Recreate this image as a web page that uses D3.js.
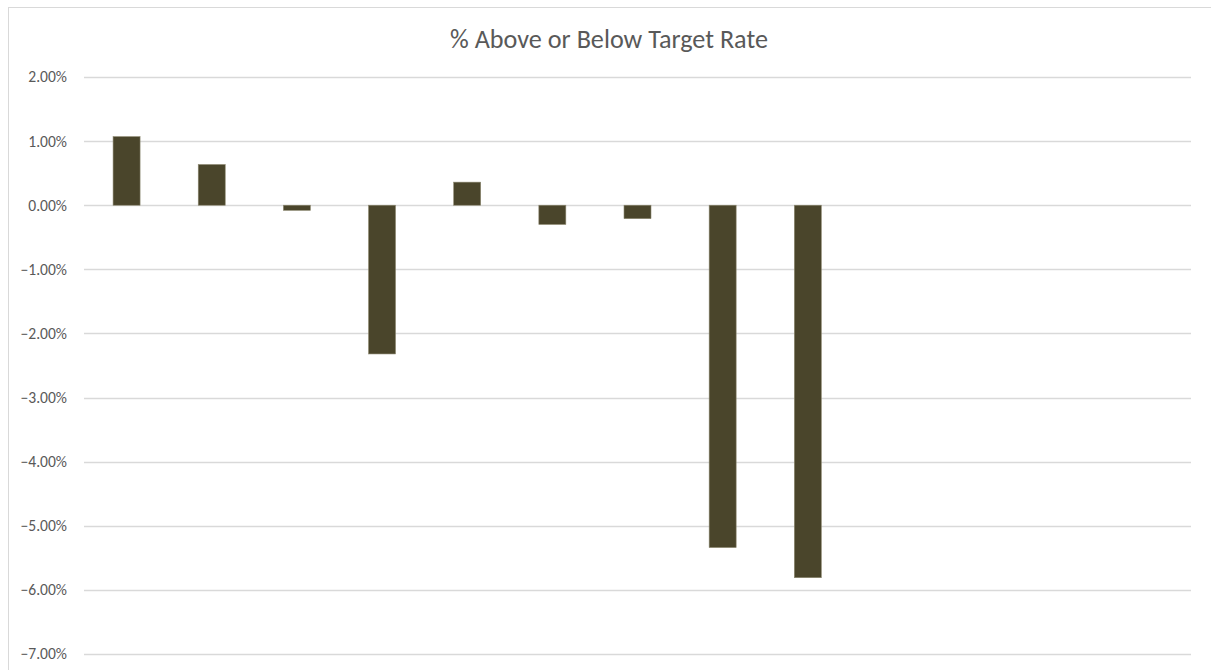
<!DOCTYPE html>
<html>
<head>
<meta charset="utf-8">
<script src="https://cdn.jsdelivr.net/npm/d3@7"></script>
<style>
  body { margin: 0; background: #fff; }
  svg { display: block; font-family: Calibri, Carlito, Lato, "Open Sans", sans-serif; }
</style>
</head>
<body>
<svg width="1211" height="670"></svg>
<script>
// 13 category slots, only the first 9 have values
const categories = ["1", "2", "3", "4", "5", "6", "7", "8", "9", "10", "11", "12", "13"];
const values = [1.07, 0.635, -0.08, -2.32, 0.36, -0.30, -0.21, -5.34, -5.81, null, null, null, null];
const yTicks = [2, 1, 0, -1, -2, -3, -4, -5, -6, -7];
const title = "% Above or Below Target Rate";

const svg = d3.select("svg"),
    width = +svg.attr("width"),
    height = +svg.attr("height");

// scale a text's font size so it takes the width seen in the reference
function fitWidth(sel, target) {
    let fs = parseFloat(sel.style("font-size"));
    let w = sel.node().getComputedTextLength();
    if (w > 0) sel.style("font-size", (fs * target / w).toFixed(2) + "px");
}

// chart frame (Excel style light border, runs off right and bottom)
svg.append("rect")
    .attr("x", 8.5).attr("y", 7.5)
    .attr("width", 1220).attr("height", 700)
    .attr("fill", "#fff")
    .attr("stroke", "#d9d9d9");

let t = svg.append("text")
    .attr("x", 609).attr("y", 48)
    .attr("text-anchor", "middle")
    .attr("fill", "#595959")
    .style("font-size", "24px")
    .text(title);
fitWidth(t, 318);

const plot = { left: 84, right: 1191, top: 77, bottom: 654 };

let x = d3.scaleBand()
    .domain(categories)
    .range([plot.left, plot.right])
    .paddingInner(0.683)
    .paddingOuter(0.3415);

let y = d3.scaleLinear()
    .domain([-7, 2])
    .range([plot.bottom, plot.top]);

// gridlines
svg.append("g")
    .selectAll("line")
    .data(yTicks)
    .enter().append("line")
    .attr("x1", plot.left).attr("x2", plot.right)
    .attr("y1", d => Math.round(y(d)) + 0.5)
    .attr("y2", d => Math.round(y(d)) + 0.5)
    .attr("stroke", "#d9d9d9")
    .attr("stroke-width", 1.3);

// y axis labels
let yAxis = d3.axisLeft(y)
    .tickValues(yTicks)
    .tickSize(0)
    .tickPadding(0)
    .tickFormat(d => d3.format(".2f")(d) + "%");

let ya = svg.append("g")
    .attr("transform", "translate(67,0)")
    .call(yAxis);
ya.select(".domain").remove();
ya.selectAll("text")
    .attr("fill", "#595959")
    .style("font-size", "16px")
    .style("font-family", "Calibri, Carlito, Lato, 'Open Sans', sans-serif");

// size tick labels from the widest one ("-7.00%" is ~47px wide)
let widest = ya.selectAll("text").filter(d => d === -7);
let fs0 = parseFloat(widest.style("font-size"));
let w0 = widest.node().getComputedTextLength();
ya.selectAll("text").style("font-size", (fs0 * 46.5 / w0).toFixed(2) + "px");

// bars
svg.append("g")
    .selectAll("rect")
    .data(categories.map((c, i) => ({ cat: c, v: values[i] })).filter(d => d.v !== null))
    .enter().append("rect")
    .attr("x", d => x(d.cat))
    .attr("width", x.bandwidth())
    .attr("y", d => y(Math.max(0, d.v)))
    .attr("height", d => Math.abs(y(d.v) - y(0)))
    .attr("fill", "#4a452b")
    .attr("stroke", "#8d8870")
    .attr("stroke-width", 0.6);
</script>
</body>
</html>
